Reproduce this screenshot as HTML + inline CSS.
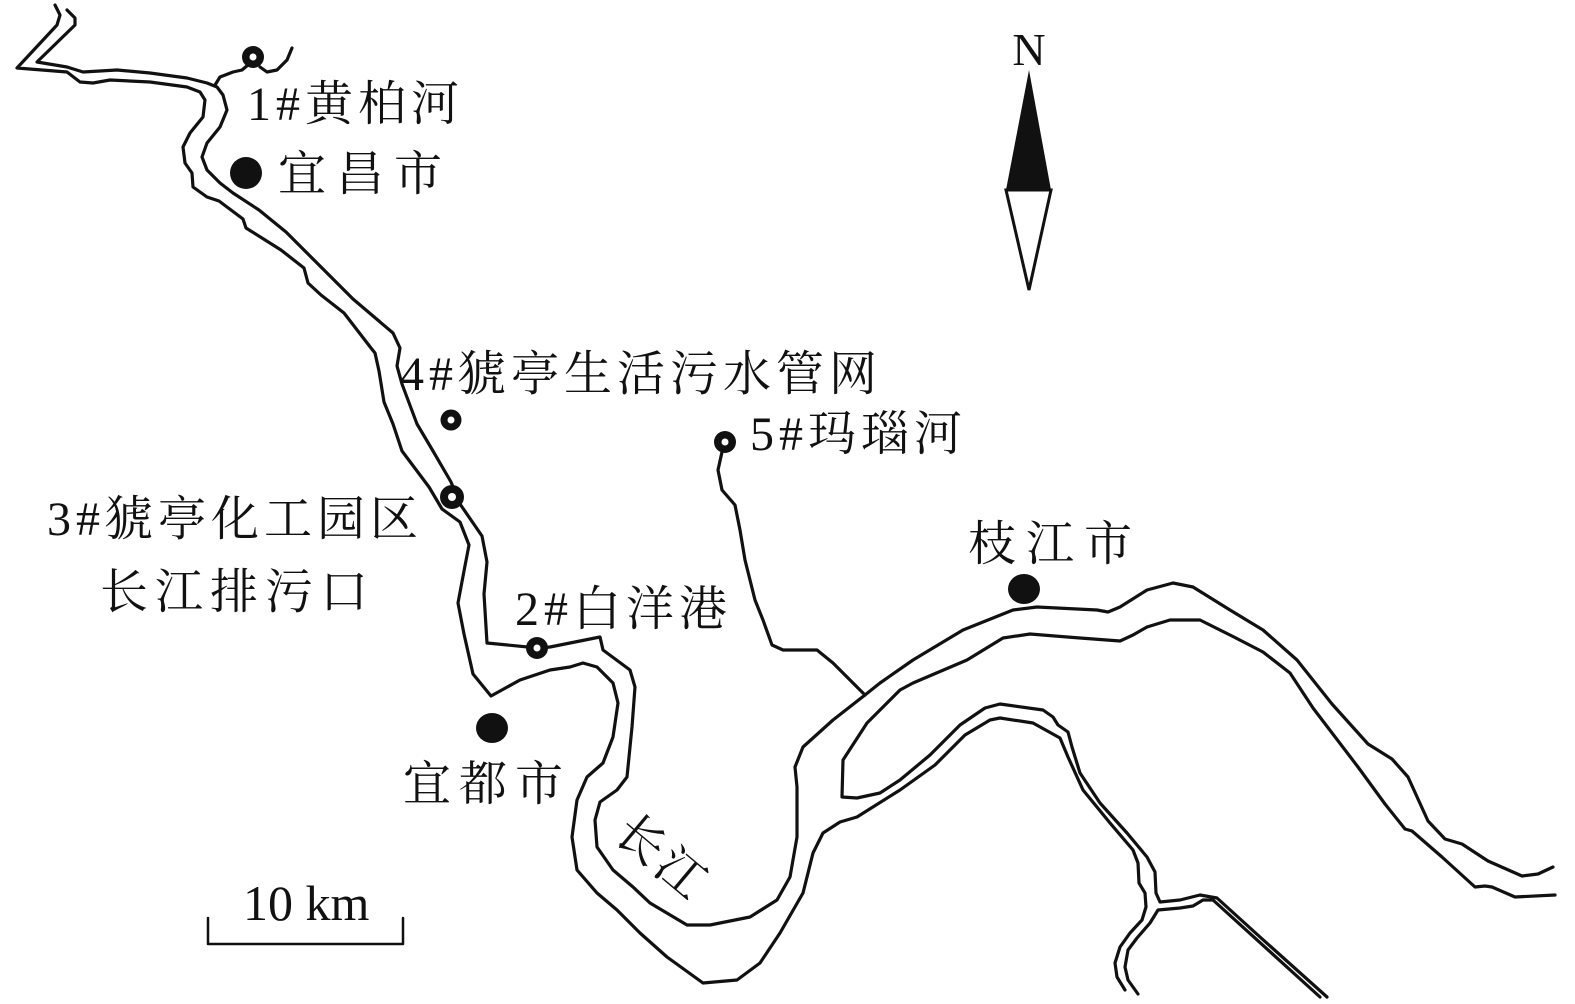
<!DOCTYPE html>
<html><head><meta charset="utf-8"><style>
html,body{margin:0;padding:0;background:#fff;}
svg{display:block;}
text{font-family:"Liberation Serif","Noto Serif CJK SC",serif;fill:#111;}
</style></head><body>
<svg width="1575" height="1004" viewBox="0 0 1575 1004" xmlns="http://www.w3.org/2000/svg">
<g fill="none" stroke="#111" stroke-width="3.2" stroke-linejoin="round" stroke-linecap="round">
<polyline points="55,5 60,15 57,25 17,68 67,72 80,82 93,83 110,80 150,82 187,87 200,92 205,100 203,117 190,133 183,147 185,163 192,173 193,187 207,197 219,201 243,219 246,228 281,250 304,268 308,283 321,295 344,313 371,348 375,353 379,371 384,402 393,424 402,451 429,487 442,509 460,522 469,545 464,571 458,603 464,634 473,674 491,696 520,680 550,670 570,667 583,663 597,667 613,683 618,703 613,737 603,763 587,777 577,800 572,837 577,870 597,893 617,910 640,933 667,957 703,983 737,980 760,963 780,933 803,893 813,853 823,833 840,822 857,817 900,790 935,765 965,735 990,720 1000,718 1033,723 1060,738 1068,757 1083,790 1110,823 1133,850 1138,863 1139,883 1145,893 1146,907 1142,920 1130,933 1120,947 1115,963 1117,977 1125,990"/>
<polyline points="67,10 75,18 75,25 37,62 43,63 67,67 83,72 117,70 150,73 187,78 207,83 217,87 223,95 227,110 220,127 207,143 202,157 207,170 220,183 233,193 259,210 286,232 313,259 353,299 393,333 400,348 397,366 402,384 417,424 433,451 451,482 460,504 482,536 487,562 484,594 487,643 538,648 550,647 600,637 603,650 630,670 635,687 632,727 627,777 617,790 600,802 595,820 597,847 613,870 633,887 650,903 687,925 710,925 750,917 777,900 790,877 797,837 797,787 795,767 803,747 833,720 865,695 880,683 913,660 963,630 1013,610 1037,607 1097,610 1108,612 1120,607 1147,590 1173,583 1193,587 1230,610 1263,630 1297,660 1332,704 1368,744 1392,759 1408,777 1428,821 1445,839 1462,844 1488,861 1522,876 1538,874 1553,867"/>
<polyline points="215,85 220,77 233,72 242,70 248,65"/>
<polyline points="260,67 267,72 277,70 287,60 292,48"/>
<polyline points="1555,895 1515,897 1492,887 1485,886 1475,887 1442,857 1412,831 1405,829 1385,804 1358,767 1313,708 1290,673 1263,652 1230,635 1200,620 1170,620 1147,627 1133,635 1120,641 1080,638 1030,634 1003,638 967,660 913,683 900,690 867,723 843,760 842,797 857,798 880,793 900,780 930,755 960,725 985,708 1000,704 1043,710 1053,717 1058,725 1068,732 1072,747 1080,773 1100,803 1127,833 1147,857 1155,872 1156,893 1160,902 1180,900 1200,895 1217,898 1260,937 1327,997"/>
<polyline points="1138,994 1128,980 1125,967 1128,950 1137,938 1150,923 1158,910 1180,908 1193,906 1203,900 1213,900 1320,997"/>
<polyline points="722,452 718,470 722,490 735,505 740,530 745,560 755,600 763,620 772,645 783,650 817,650 833,663 865,695"/>
<polyline points="208,918 208,944 403,944 403,918" stroke-width="2.5"/>
</g>
<g fill="#111">
<circle cx="253" cy="57" r="11"/><circle cx="253" cy="57" r="3.5" fill="#fff"/>
<circle cx="451" cy="420" r="10.5"/><circle cx="451" cy="420" r="3.5" fill="#fff"/>
<circle cx="452" cy="497" r="12"/><circle cx="452" cy="497" r="4" fill="#fff"/>
<circle cx="537" cy="648" r="11"/><circle cx="537" cy="648" r="3.5" fill="#fff"/>
<circle cx="725" cy="442" r="11"/><circle cx="725" cy="442" r="3.5" fill="#fff"/>
<ellipse cx="246" cy="173" rx="16" ry="16"/>
<ellipse cx="492" cy="728" rx="16" ry="15"/>
<ellipse cx="1024" cy="589" rx="16" ry="15"/>
</g>
<polygon points="1029,70 1006,190 1051,190" fill="#111"/>
<polygon points="1006,190 1051,190 1029,290" fill="#fff" stroke="#111" stroke-width="3" stroke-linejoin="miter"/>
<text x="1029" y="65" font-size="46" text-anchor="middle">N</text>
<g font-size="48" letter-spacing="5">
<text x="247" y="120">1#黄柏河</text>
<text x="278" y="190" letter-spacing="10">宜昌市</text>
<text x="400" y="390">4#猇亭生活污水管网</text>
<text x="750" y="450">5#玛瑙河</text>
<text x="47" y="535">3#猇亭化工园区</text>
<text x="100" y="608" letter-spacing="7">长江排污口</text>
<text x="515" y="625">2#白洋港</text>
<text x="968" y="560" letter-spacing="10">枝江市</text>
<text x="403" y="800" letter-spacing="8">宜都市</text>
<text x="0" y="0" transform="translate(662,858) rotate(40)" text-anchor="middle" dy="16" letter-spacing="4">长江</text>
<text x="243" y="920" font-size="50" letter-spacing="0">10 km</text>
</g>
</svg>
</body></html>
